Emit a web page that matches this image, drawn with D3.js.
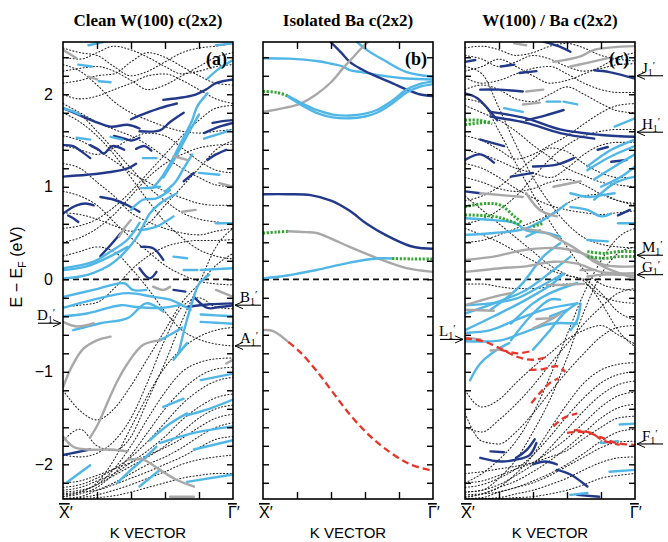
<!DOCTYPE html>
<html><head><meta charset="utf-8">
<script src="https://cdn.jsdelivr.net/npm/d3@7"></script>
<style>
body{margin:0;background:#fff}
text{font-family:"Liberation Sans",Arial,sans-serif}
.serif{font-family:"Liberation Serif","Times New Roman",serif}
</style>
</head><body>
<svg id="chart" width="668" height="542"></svg>
<script>
// Surface band structures along X'-Gamma' for W(100), an isolated Ba c(2x2) layer and Ba on W(100).
// Dotted bands are sampled on an even k grid; coloured segments mark character-weighted stretches.

const kGrid = [0, 0.1, 0.2, 0.3, 0.4, 0.5, 0.6, 0.7, 0.8, 0.9, 1.0];
const yTicks = [-2.2,-2,-1.8,-1.6,-1.4,-1.2,-1,-0.8,-0.6,-0.4,-0.2,0,0.2,0.4,0.6,0.8,1,1.2,1.4,1.6,1.8,2,2.2,2.4];
const yLabels = [-2, -1, 0, 1, 2];
const kTicks = [0.2, 0.4, 0.6, 0.8];
const titles = ["Clean W(100) c(2x2)", "Isolated Ba c(2x2)", "W(100) / Ba c(2x2)"];
const panelTags = ["(a)", "(b)", "(c)"];

// ---------- clean W(100): dotted bands ----------
const dottedA = [
  [-2.33,-2.30,-2.20,-1.95,-1.60,-1.25,-0.95,-0.75,-0.62,-0.55,-0.52],
  [-2.30,-2.28,-2.22,-2.05,-1.80,-1.50,-1.22,-1.00,-0.90,-0.86,-0.85],
  [-2.35,-2.32,-2.25,-2.10,-1.90,-1.65,-1.40,-1.20,-1.05,-0.97,-0.95],
  [-2.25,-2.22,-2.15,-2.05,-1.92,-1.75,-1.55,-1.35,-1.20,-1.10,-1.06],
  [-2.28,-2.25,-2.18,-2.10,-1.98,-1.85,-1.70,-1.52,-1.38,-1.28,-1.24],
  [-2.35,-2.30,-2.22,-2.12,-2.02,-1.92,-1.80,-1.65,-1.50,-1.40,-1.36],
  [-2.20,-2.18,-2.12,-2.05,-1.98,-1.90,-1.82,-1.72,-1.60,-1.50,-1.46],
  [-2.37,-2.35,-2.28,-2.20,-2.10,-2.00,-1.92,-1.82,-1.70,-1.60,-1.55],
  [-2.32,-2.30,-2.28,-2.22,-2.15,-2.08,-2.00,-1.92,-1.82,-1.73,-1.70],
  [-2.37,-2.36,-2.33,-2.28,-2.22,-2.15,-2.08,-2.00,-1.95,-1.92,-1.90],
  [-2.37,-2.37,-2.36,-2.34,-2.30,-2.25,-2.20,-2.15,-2.12,-2.10,-2.10],
  [-1.20,-1.42,-1.52,-1.40,-1.15,-0.85,-0.55,-0.25,-0.05,0.15,0.28],
  [-1.75,-1.62,-1.80,-1.85,-1.70,-1.30,-0.90,-0.45,-0.05,0.35,0.55],
  [-1.90,-1.92,-1.88,-1.75,-1.50,-1.10,-0.65,-0.30,-0.20,-0.30,-0.32],
  [2.50,2.45,2.42,2.30,2.20,2.25,2.35,2.45,2.50,2.52,2.55],
  [2.40,2.38,2.45,2.52,2.48,2.40,2.30,2.22,2.25,2.30,2.32],
  [2.25,2.28,2.30,2.25,2.15,2.05,2.10,2.20,2.30,2.40,2.45],
  [2.12,2.15,2.20,2.22,2.35,2.45,2.40,2.30,2.20,2.12,2.10],
  [2.00,1.95,1.98,2.05,2.12,2.20,2.22,2.15,2.05,1.95,1.90],
  [1.90,1.80,1.70,1.62,1.55,1.45,1.32,1.20,1.10,1.02,1.00],
  [1.85,1.78,1.60,1.40,1.20,1.00,0.85,0.72,0.65,0.62,0.60],
  [1.80,1.70,1.55,1.35,1.10,0.85,0.62,0.45,0.32,0.25,0.22],
  [0.55,0.58,0.65,0.78,0.95,1.15,1.35,1.55,1.72,1.85,1.88],
  [0.40,0.45,0.55,0.70,0.90,1.10,1.25,1.35,1.42,1.45,1.46],
  [1.25,1.20,1.05,0.90,0.72,0.62,0.55,0.50,0.48,0.52,0.55],
  [1.55,1.50,1.40,1.28,1.15,1.05,0.95,0.88,0.82,0.80,0.80],
  [0.95,0.90,0.80,0.62,0.45,0.30,0.15,0.05,-0.02,-0.05,-0.06],
  [1.45,1.40,1.35,1.42,1.52,1.58,1.55,1.42,1.28,1.18,1.15],
  [2.32,2.25,2.10,1.92,1.80,1.72,1.65,1.60,1.58,1.60,1.62],
  [0.72,0.70,0.65,0.58,0.52,0.60,0.80,1.00,1.20,1.40,1.50],
  [0.25,0.30,0.35,0.30,0.12,-0.10,-0.35,-0.55,-0.65,-0.70,-0.72],
  [-0.30,-0.28,-0.25,-0.10,0.10,0.25,0.35,0.40,0.42,0.42,0.43]
];

// ---------- clean W(100): weighted segments ----------
const segA = [
  {c:"dark", p:[[0,1.85],[0.09,1.78],[0.18,1.71],[0.28,1.65],[0.38,1.67],[0.45,1.63]]},
  {c:"dark", p:[[0.40,1.73],[0.48,1.79],[0.57,1.85],[0.67,1.90]]},
  {c:"dark", p:[[0.59,1.94],[0.68,1.96],[0.77,1.99],[0.84,2.05],[0.90,2.12],[1.0,2.16]]},
  {c:"dark", p:[[0.45,1.60],[0.57,1.61],[0.63,1.70],[0.71,1.80]]},
  {c:"dark", p:[[0.30,1.55],[0.36,1.52],[0.40,1.50],[0.45,1.53]]},
  {c:"dark", p:[[0,1.45],[0.06,1.44],[0.11,1.38],[0.16,1.31]]},
  {c:"dark", p:[[0.16,1.45],[0.21,1.40],[0.24,1.36],[0.29,1.44],[0.36,1.40]]},
  {c:"dark", p:[[0.43,1.41],[0.48,1.44],[0.52,1.39]]},
  {c:"dark", p:[[0,1.11],[0.14,1.13],[0.28,1.16],[0.38,1.20],[0.43,1.25]]},
  {c:"dark", p:[[0.88,1.69],[0.94,1.71],[1.0,1.72]]},
  {c:"dark", p:[[0.83,1.58],[0.92,1.65],[1.0,1.69]]},
  {c:"dark", p:[[0.85,1.29],[0.90,1.35],[0.96,1.40]]},
  {c:"dark", p:[[0.71,1.06],[0.77,1.15]]},
  {c:"dark", p:[[0,0.71],[0.04,0.76],[0.08,0.80],[0.13,0.82],[0.18,0.80]]},
  {c:"dark", p:[[0.03,0.69],[0.06,0.66],[0.09,0.62]]},
  {c:"dark", p:[[0.22,0.89],[0.30,0.86],[0.38,0.80],[0.45,0.73]]},
  {c:"dark", p:[[0.22,0.25],[0.28,0.37],[0.34,0.50]]},
  {c:"dark", p:[[0.46,0.35],[0.53,0.335],[0.59,0.21]]},
  {c:"dark", p:[[0.45,0.12],[0.51,0.01],[0.55,0.08]]},
  {c:"dark", p:[[0.65,-0.115],[0.72,-0.133]]},
  {c:"dark", p:[[0.77,-0.19],[0.85,-0.31],[0.92,-0.30],[1,-0.28]]},
  {c:"dark", p:[[0.73,-0.30],[0.86,-0.27],[1,-0.26]]},
  {c:"dark", p:[[0,-1.90],[0.08,-1.87],[0.16,-1.84]]},
  {c:"light", p:[[0.9,2.53],[1.0,2.55]]},
  {c:"light", p:[[0.15,2.53],[0.25,2.57]]},
  {c:"light", p:[[0.09,2.32],[0.17,2.30]]},
  {c:"light", p:[[0.21,2.14],[0.28,2.13]]},
  {c:"light", p:[[0.85,2.17],[0.92,2.28],[1.0,2.37]]},
  {c:"light", p:[[0,1.85],[0.05,1.82],[0.1,1.78]]},
  {c:"light", p:[[0.53,0.99],[0.58,1.10],[0.63,1.25],[0.70,1.50],[0.76,1.72],[0.79,1.87],[0.85,2.01]]},
  {c:"light", p:[[0.59,1.10],[0.64,1.25],[0.70,1.45],[0.75,1.62],[0.80,1.78]]},
  {c:"light", p:[[0.60,0.95],[0.66,1.05],[0.71,1.20],[0.76,1.35]]},
  {c:"light", p:[[0.08,1.53],[0.16,1.51]]},
  {c:"light", p:[[0.28,1.54],[0.35,1.51]]},
  {c:"light", p:[[0.47,1.31],[0.55,1.31]]},
  {c:"light", p:[[0.83,1.52],[0.90,1.56],[0.98,1.61]]},
  {c:"light", p:[[0.8,1.15],[0.92,1.13]]},
  {c:"light", p:[[0.46,0.985],[0.52,0.99],[0.57,1.0]]},
  {c:"light", p:[[0,0.12],[0.1,0.15],[0.18,0.19],[0.28,0.30],[0.38,0.43],[0.45,0.61]]},
  {c:"light", p:[[0,0.10],[0.14,0.14],[0.28,0.25],[0.38,0.35]]},
  {c:"light", p:[[0,0.01],[0.1,0.03],[0.18,0.07],[0.28,0.16],[0.34,0.25],[0.40,0.37],[0.45,0.50],[0.51,0.71],[0.57,0.82],[0.67,0.93]]},
  {c:"light", p:[[0.40,0.75],[0.47,0.86],[0.55,0.875],[0.63,0.965]]},
  {c:"light", p:[[0.45,0.53],[0.55,0.57],[0.65,0.68]]},
  {c:"light", p:[[0.65,0.245],[0.73,0.227]]},
  {c:"light", p:[[0.71,0.10],[0.79,0.10]]},
  {c:"light", p:[[0.81,0.10],[0.9,0.11],[1,0.12]]},
  {c:"light", p:[[0.9,0.605],[1,0.605]]},
  {c:"light", p:[[0,-0.19],[0.18,-0.115],[0.36,-0.043],[0.41,-0.115],[0.49,-0.115]]},
  {c:"light", p:[[0,-0.31],[0.18,-0.22],[0.38,-0.15],[0.53,-0.19],[0.63,-0.22],[0.75,-0.33]]},
  {c:"light", p:[[0,-0.40],[0.14,-0.37],[0.34,-0.28],[0.43,-0.30],[0.57,-0.31],[0.69,-0.28]]},
  {c:"light", p:[[0.06,-0.55],[0.22,-0.475],[0.38,-0.42],[0.49,-0.26],[0.59,-0.35]]},
  {c:"light", p:[[0.81,-0.38],[0.9,-0.39],[1,-0.40]]},
  {c:"light", p:[[0.81,-0.46],[0.9,-0.47],[1,-0.48]]},
  {c:"light", p:[[0.68,-0.80],[0.72,-0.50],[0.76,-0.25],[0.80,-0.05],[0.86,0.05]]},
  {c:"light", p:[[0.57,-0.66],[0.63,-0.60],[0.70,-0.52]]},
  {c:"light", p:[[0.65,-0.87],[0.73,-0.69]]},
  {c:"light", p:[[0.59,-1.38],[0.71,-1.29]]},
  {c:"light", p:[[0.81,-1.09],[1,-1.02]]},
  {c:"light", p:[[0.73,-1.47],[0.86,-1.40],[1,-1.30]]},
  {c:"light", p:[[0.51,-1.74],[0.63,-1.56],[0.73,-1.45]]},
  {c:"light", p:[[0.57,-1.77],[0.77,-1.66],[1,-1.59]]},
  {c:"light", p:[[0.32,-2.20],[0.40,-2.06],[0.47,-1.95],[0.55,-1.81]]},
  {c:"light", p:[[0.02,-2.20],[0.16,-2.01]]},
  {c:"light", p:[[0.73,-2.19],[1,-2.11]]},
  {c:"light", p:[[0.45,-2.24],[0.57,-2.06]]},
  {c:"light", p:[[0.77,-1.84],[1,-1.74]]},
  {c:"gray", p:[[0,2.48],[0.08,2.39]]},
  {c:"gray", p:[[0.15,2.19],[0.2,2.16]]},
  {c:"gray", p:[[0.65,1.33],[0.73,1.29]]},
  {c:"gray", p:[[0.92,1.04],[1,1.0]]},
  {c:"gray", p:[[0.33,0.46],[0.36,0.55],[0.40,0.64]]},
  {c:"gray", p:[[0.70,0.73],[0.78,0.75]]},
  {c:"gray", p:[[0,-0.46],[0.08,-0.51],[0.18,-0.475]]},
  {c:"gray", p:[[0.53,-0.08],[0.59,-0.115],[0.63,-0.08]]},
  {c:"gray", p:[[0.9,-0.115],[1,-0.19]]},
  {c:"gray", p:[[0,-1.17],[0.05,-0.95],[0.12,-0.75],[0.2,-0.66],[0.28,-0.62]]},
  {c:"gray", p:[[0.16,-1.71],[0.21,-1.55],[0.26,-1.34],[0.32,-1.10],[0.38,-0.91],[0.47,-0.71],[0.57,-0.66]]},
  {c:"gray", p:[[0,-1.70],[0.06,-1.81],[0.14,-1.84],[0.28,-1.84],[0.38,-1.86]]},
  {c:"gray", p:[[0.38,-1.95],[0.47,-1.95],[0.57,-2.06],[0.67,-2.17],[0.77,-2.24]]},
  {c:"gray", p:[[0.96,-0.91],[1,-0.87]]},
  {c:"gray", p:[[0.63,-2.35],[0.77,-2.35]]}
];

// ---------- isolated Ba layer ----------
const dottedB = [];
const segB = [
  {c:"light", p:[[0,2.39],[0.15,2.385],[0.315,2.36],[0.40,2.33],[0.47,2.30],[0.51,2.26],[0.58,2.24],[0.67,2.21],[0.845,2.17],[1,2.16]]},
  {c:"light", p:[[0.55,2.57],[0.61,2.48],[0.71,2.37],[0.845,2.24],[1,2.19]]},
  {c:"dark", p:[[0.40,2.56],[0.46,2.45],[0.51,2.35],[0.58,2.27],[0.67,2.19],[0.76,2.12],[0.845,2.05],[0.92,2.0],[1,1.98]]},
  {c:"gray", p:[[0,1.81],[0.12,1.85],[0.22,1.90],[0.315,2.0],[0.40,2.13],[0.47,2.28],[0.53,2.40],[0.58,2.50],[0.62,2.57]]},
  {c:"green", p:[[0,2.03],[0.08,2.02],[0.15,1.98]]},
  {c:"light", p:[[0.15,1.98],[0.22,1.91],[0.315,1.83],[0.41,1.78],[0.51,1.77],[0.60,1.79],[0.67,1.83],[0.76,1.93],[0.845,2.05],[0.92,2.11],[1,2.14]]},
  {c:"light", p:[[0.15,1.97],[0.22,1.89],[0.315,1.80],[0.41,1.75],[0.51,1.74],[0.60,1.76],[0.67,1.80],[0.76,1.90],[0.845,2.02],[0.92,2.08],[1,2.11]]},
  {c:"dark", p:[[0,0.92],[0.15,0.92],[0.28,0.91],[0.40,0.85],[0.51,0.74],[0.61,0.60],[0.72,0.48],[0.865,0.36],[0.94,0.335],[1,0.33]]},
  {c:"green", p:[[0,0.50],[0.08,0.51],[0.15,0.52]]},
  {c:"gray", p:[[0.15,0.52],[0.25,0.51],[0.315,0.50],[0.40,0.44],[0.51,0.35],[0.67,0.23],[0.845,0.12],[1,0.08]]},
  {c:"light", p:[[0,0.01],[0.1,0.03],[0.2,0.06],[0.315,0.10],[0.51,0.18],[0.67,0.225],[0.76,0.225]]},
  {c:"green", p:[[0.76,0.225],[0.88,0.22],[1,0.22]]},
  {c:"gray", p:[[0,-0.55],[0.06,-0.56],[0.15,-0.68]]},
  {c:"red", p:[[0.15,-0.68],[0.22,-0.79],[0.315,-0.99],[0.41,-1.22],[0.51,-1.46],[0.61,-1.66],[0.71,-1.82],[0.865,-2.0],[1,-2.07]]}
];

// ---------- Ba on W(100): dotted bands ----------
const dottedC = [
  [2.50,2.52,2.48,2.42,2.45,2.52,2.55,2.50,2.42,2.38,2.36],
  [2.42,2.38,2.30,2.35,2.42,2.38,2.30,2.25,2.28,2.32,2.33],
  [2.25,2.30,2.38,2.30,2.20,2.12,2.15,2.22,2.30,2.40,2.45],
  [2.18,2.12,2.15,2.22,2.28,2.30,2.22,2.12,2.05,2.02,2.02],
  [2.05,2.10,2.05,1.95,1.92,2.00,2.08,2.00,1.90,1.82,1.80],
  [1.95,1.90,1.60,1.25,0.92,0.62,0.35,0.10,-0.05,-0.10,-0.12],
  [2.30,2.22,1.85,1.45,1.10,0.82,0.60,0.45,0.38,0.35,0.34],
  [1.88,1.80,1.72,1.60,1.45,1.32,1.20,1.12,1.05,1.02,1.00],
  [1.55,1.50,1.40,1.30,1.35,1.45,1.55,1.68,1.80,1.88,1.90],
  [1.40,1.35,1.28,1.20,1.15,1.10,1.20,1.35,1.45,1.48,1.48],
  [0.60,0.65,0.75,0.90,1.10,1.30,1.45,1.55,1.60,1.62,1.62],
  [1.10,1.05,0.98,0.95,0.98,1.05,1.08,1.02,0.92,0.85,0.82],
  [0.85,0.90,1.00,1.15,1.30,1.42,1.38,1.25,1.15,1.10,1.10],
  [1.25,1.20,1.10,0.98,0.88,0.80,0.75,0.72,0.70,0.72,0.74],
  [0.40,0.42,0.48,0.55,0.62,0.70,0.82,0.90,0.92,0.85,0.80],
  [-2.20,-2.10,-1.95,-1.75,-1.45,-1.05,-0.60,-0.15,0.20,0.45,0.55],
  [-2.30,-2.28,-2.15,-1.95,-1.65,-1.30,-0.85,-0.35,0.05,0.28,0.35],
  [0.90,0.75,0.60,0.45,0.30,0.15,0.05,-0.02,-0.25,-0.55,-0.73],
  [0.55,0.48,0.40,0.30,0.20,0.10,0.04,0.00,-0.15,-0.35,-0.44],
  [-0.05,-0.05,-0.08,-0.10,-0.10,-0.08,-0.05,-0.05,-0.18,-0.24,-0.26],
  [-2.35,-2.32,-2.25,-2.10,-1.90,-1.62,-1.35,-1.12,-0.98,-0.92,-0.90],
  [-2.25,-2.22,-2.15,-2.05,-1.90,-1.70,-1.48,-1.28,-1.12,-1.03,-1.00],
  [-2.30,-2.28,-2.22,-2.12,-2.00,-1.82,-1.62,-1.42,-1.25,-1.14,-1.10],
  [-2.20,-2.18,-2.12,-2.05,-1.98,-1.86,-1.72,-1.55,-1.38,-1.26,-1.22],
  [-2.36,-2.32,-2.25,-2.18,-2.08,-1.96,-1.82,-1.66,-1.50,-1.39,-1.35],
  [-2.10,-2.08,-2.05,-2.02,-1.98,-1.92,-1.85,-1.72,-1.60,-1.50,-1.48],
  [-2.37,-2.36,-2.30,-2.25,-2.18,-2.10,-2.00,-1.88,-1.75,-1.65,-1.62],
  [-2.33,-2.32,-2.30,-2.25,-2.20,-2.12,-2.02,-1.92,-1.82,-1.76,-1.75],
  [-2.37,-2.37,-2.36,-2.32,-2.28,-2.22,-2.15,-2.06,-1.98,-1.93,-1.92],
  [-2.37,-2.37,-2.37,-2.36,-2.35,-2.32,-2.28,-2.22,-2.15,-2.12,-2.10],
  [-1.20,-1.38,-1.30,-1.12,-0.95,-0.80,-0.65,-0.55,-0.50,-0.60,-0.70],
  [-1.60,-1.65,-1.52,-1.35,-1.15,-0.92,-0.70,-0.48,-0.30,-0.15,-0.10],
  [-1.45,-1.75,-1.78,-1.65,-1.45,-1.22,-1.00,-0.80,-0.62,-0.52,-0.50]
];

const segC = [
  {c:"dark", p:[[0,2.35],[0.06,2.37]]},
  {c:"dark", p:[[0.21,2.30],[0.29,2.32]]},
  {c:"dark", p:[[0.46,2.57],[0.55,2.52],[0.62,2.46]]},
  {c:"dark", p:[[0.32,2.23],[0.42,2.25]]},
  {c:"dark", p:[[0.76,2.26],[0.85,2.24],[1.0,2.17]]},
  {c:"dark", p:[[0.09,2.05],[0.2,2.05],[0.34,2.03]]},
  {c:"dark", p:[[0,2.01],[0.07,1.96],[0.19,1.72]]},
  {c:"dark", p:[[0.15,1.81],[0.36,1.74],[0.56,1.62],[0.80,1.56],[1.0,1.54]]},
  {c:"dark", p:[[0.15,1.76],[0.36,1.69],[0.56,1.58],[0.76,1.52]]},
  {c:"dark", p:[[0.36,1.72],[0.47,1.77],[0.58,1.83]]},
  {c:"dark", p:[[0.09,1.51],[0.23,1.44]]},
  {c:"dark", p:[[0,1.29],[0.09,1.35],[0.17,1.26]]},
  {c:"dark", p:[[0.40,1.22],[0.54,1.24],[0.64,1.31]]},
  {c:"dark", p:[[0.27,1.11],[0.40,1.15]]},
  {c:"dark", p:[[0,0.95],[0.09,0.93]]},
  {c:"dark", p:[[0.78,1.40],[0.84,1.43]]},
  {c:"dark", p:[[0.86,1.27],[0.95,1.29]]},
  {c:"dark", p:[[0.90,0.69],[0.97,0.75]]},
  {c:"dark", p:[[0.09,-1.93],[0.21,-1.97],[0.30,-1.95],[0.38,-1.90],[0.42,-1.77]]},
  {c:"dark", p:[[0.15,-1.86],[0.23,-1.87]]},
  {c:"dark", p:[[0.30,-1.93],[0.36,-1.85],[0.41,-1.73]]},
  {c:"dark", p:[[0.40,-2.00],[0.47,-1.97],[0.54,-2.0]]},
  {c:"dark", p:[[0.54,-2.06],[0.62,-2.11],[0.72,-2.24]]},
  {c:"dark", p:[[0.66,-2.33],[0.79,-2.35]]},
  {c:"light", p:[[0.23,1.85],[0.34,1.81]]},
  {c:"light", p:[[0.48,1.92],[0.56,1.92]]},
  {c:"light", p:[[0.58,1.92],[0.66,1.89]]},
  {c:"light", p:[[0.72,1.22],[0.86,1.40],[1.0,1.51]]},
  {c:"light", p:[[0.72,1.18],[0.86,1.33],[1.0,1.44]]},
  {c:"light", p:[[0.76,1.08],[0.88,1.22],[1.0,1.35]]},
  {c:"light", p:[[0.80,1.00],[0.92,1.11],[1.0,1.22]]},
  {c:"light", p:[[0.88,1.65],[1.0,1.74]]},
  {c:"light", p:[[0.76,0.86],[0.88,1.04],[1.0,1.11]]},
  {c:"light", p:[[0,0.66],[0.17,0.64],[0.30,0.605],[0.36,0.53],[0.48,0.50],[0.56,0.46]]},
  {c:"light", p:[[0,0.48],[0.17,0.50],[0.36,0.55],[0.52,0.71],[0.60,0.82]]},
  {c:"light", p:[[0,-0.37],[0.17,-0.26],[0.36,-0.115],[0.52,0.10],[0.62,0.245]]},
  {c:"light", p:[[0,-0.55],[0.17,-0.40],[0.36,-0.22],[0.52,-0.04],[0.58,0.06]]},
  {c:"light", p:[[0.15,-0.33],[0.32,-0.08],[0.46,0.245],[0.56,0.39]]},
  {c:"light", p:[[0.27,-0.66],[0.40,-0.37],[0.50,-0.22],[0.56,-0.22]]},
  {c:"light", p:[[0.62,0.93],[0.73,0.89],[0.81,0.91],[0.88,0.93]]},
  {c:"light", p:[[0.62,0.78],[0.72,0.75],[0.80,0.68],[0.86,0.71]]},
  {c:"light", p:[[0.90,0.605],[1,0.605]]},
  {c:"light", p:[[0.72,0.425],[0.84,0.41]]},
  {c:"light", p:[[0.36,0.46],[0.44,0.53]]},
  {c:"light", p:[[0.62,-0.55],[0.66,-0.44],[0.68,-0.26]]},
  {c:"light", p:[[0.50,-0.40],[0.60,-0.33]]},
  {c:"light", p:[[0,-0.28],[0.15,-0.26],[0.30,-0.21],[0.44,-0.08],[0.58,0.06]]},
  {c:"light", p:[[0,-0.58],[0.15,-0.55],[0.30,-0.44],[0.46,-0.33],[0.66,-0.26]]},
  {c:"light", p:[[0,-0.67],[0.21,-0.66],[0.34,-0.58],[0.50,-0.48],[0.66,-0.48]]},
  {c:"light", p:[[0.03,-1.09],[0.09,-0.91],[0.19,-0.76],[0.26,-0.69]]},
  {c:"light", p:[[0.40,-0.76],[0.50,-0.55],[0.58,-0.37],[0.66,-0.26]]},
  {c:"light", p:[[0.27,-0.48],[0.40,-0.26],[0.50,-0.15],[0.66,-0.04]]},
  {c:"light", p:[[0.91,-1.57],[1,-1.56]]},
  {c:"light", p:[[0.80,-1.77],[0.90,-1.75]]},
  {c:"light", p:[[0.85,-2.08],[1,-2.06]]},
  {c:"light", p:[[0.62,-2.33],[0.72,-2.31]]},
  {c:"gray", p:[[0.52,2.35],[0.68,2.41],[0.76,2.48],[1.0,2.52]]},
  {c:"gray", p:[[0.62,2.30],[0.72,2.34],[0.84,2.39]]},
  {c:"gray", p:[[0.29,2.55],[0.36,2.53]]},
  {c:"gray", p:[[0.36,2.03],[0.46,2.05]]},
  {c:"gray", p:[[0.34,1.89],[0.44,1.91]]},
  {c:"gray", p:[[0.52,1.0],[0.68,1.06]]},
  {c:"gray", p:[[0.09,0.93],[0.34,0.89]]},
  {c:"gray", p:[[0.36,0.93],[0.44,0.75],[0.54,0.68]]},
  {c:"gray", p:[[0,0.21],[0.17,0.245],[0.36,0.32],[0.56,0.335],[0.72,0.26],[0.82,0.155],[1.0,0.14]]},
  {c:"gray", p:[[0,0.08],[0.21,0.12],[0.36,0.14],[0.52,0.19],[0.66,0.17],[0.80,0.08],[1.0,0.065]]},
  {c:"gray", p:[[0.34,0.55],[0.48,0.50],[0.56,0.425],[0.66,0.32],[0.76,0.19],[0.86,0.10],[1.0,0.01]]},
  {c:"gray", p:[[0,-0.28],[0.17,-0.19],[0.27,-0.15]]},
  {c:"gray", p:[[0,-0.33],[0.17,-0.34]]},
  {c:"gray", p:[[0,-0.63],[0.09,-0.65]]},
  {c:"gray", p:[[0.42,-0.43],[0.52,-0.42]]},
  {c:"gray", p:[[0.72,0.03],[0.82,0.05],[1.0,0.04]]},
  {c:"gray", p:[[0.68,0.10],[0.76,0.10]]},
  {c:"gray", p:[[0.15,-0.77],[0.21,-0.76]]},
  {c:"gray", p:[[0.40,-0.53],[0.50,-0.44],[0.56,-0.37]]},
  {c:"gray", p:[[0.48,-0.06],[0.60,-0.06],[0.70,-0.05]]},
  {c:"green", p:[[0,1.72],[0.08,1.72],[0.16,1.68]]},
  {c:"green", p:[[0,1.67],[0.08,1.69],[0.15,1.70]]},
  {c:"green", p:[[0,0.785],[0.13,0.82],[0.21,0.80],[0.29,0.68],[0.34,0.605]]},
  {c:"green", p:[[0,0.695],[0.17,0.68],[0.25,0.64],[0.32,0.59]]},
  {c:"green", p:[[0.40,0.57],[0.46,0.605]]},
  {c:"green", p:[[0.72,0.30],[0.82,0.28],[0.90,0.30],[1.0,0.30]]},
  {c:"green", p:[[0.72,0.245],[0.82,0.227],[0.90,0.245],[1.0,0.245]]},
  {c:"red", p:[[0,-0.64],[0.11,-0.67],[0.21,-0.75],[0.31,-0.84],[0.40,-0.87],[0.48,-0.84]]},
  {c:"red", p:[[0.21,-0.76],[0.31,-0.80],[0.38,-0.78]]},
  {c:"red", p:[[0.38,-0.98],[0.46,-0.97],[0.54,-0.94],[0.59,-1.0]]},
  {c:"red", p:[[0.39,-1.34],[0.44,-1.23],[0.50,-1.12],[0.55,-1.07]]},
  {c:"red", p:[[0.52,-1.59],[0.58,-1.50],[0.66,-1.45]]},
  {c:"red", p:[[0.60,-1.66],[0.70,-1.65],[0.79,-1.70],[0.89,-1.77],[1.0,-1.79]]},
  {c:"red", p:[[0.64,-1.63],[0.74,-1.66],[0.81,-1.74],[0.91,-1.79]]}
];

// Labelled surface states: panel index, side of the frame, name, energy
const stateNames = ["D","B","A","L","J","H","M","G","F"];
const stateEnergy = [-0.475, -0.28, -0.72, -0.65, 2.2, 1.59, 0.26, 0.05, -1.78];
const statePanel = [0, 0, 0, 2, 2, 2, 2, 2, 2];
const stateSide = ["left","right","right","left","right","right","right","right","right"];

// ---------- drawing ----------
const svg = d3.select("#chart");
const yScale = d3.scaleLinear().domain([-2.375, 2.565]).range([499, 42]);
const xRanges = [[63, 233], [263, 433], [465, 635]];

const bandColor = {dark:"#22398a", light:"#4fb6e6", gray:"#a8a8a8", green:"#34a532", red:"#e8352a"};

const defs = svg.append("defs");
defs.append("marker").attr("id","head").attr("viewBox","0 0 10 10")
  .attr("refX",9).attr("refY",5).attr("markerWidth",9).attr("markerHeight",9)
  .attr("markerUnits","userSpaceOnUse").attr("orient","auto")
  .append("path").attr("d","M0,1 L9,5 L0,9").attr("fill","none").attr("stroke","#000").attr("stroke-width",1.1);

const panelData = [[dottedA, segA], [dottedB, segB], [dottedC, segC]];

panelData.forEach(([dotted, segs], i) => {
  const [x0, x1] = xRanges[i];
  const x = d3.scaleLinear().domain([0, 1]).range([x0, x1]);
  const g = svg.append("g");

  defs.append("clipPath").attr("id", "clip" + i).append("rect")
    .attr("x", x0).attr("y", yScale.range()[1]).attr("width", x1 - x0).attr("height", yScale.range()[0] - yScale.range()[1]);

  const plot = g.append("g").attr("clip-path", `url(#clip${i})`);

  const bandLine = d3.line().x((d, j) => x(kGrid[j])).y(d => yScale(d)).curve(d3.curveMonotoneX);
  plot.selectAll("path.dot").data(dotted).join("path").attr("class","dot")
    .attr("d", bandLine).attr("fill","none").attr("stroke","#222")
    .attr("stroke-width",1.05).attr("stroke-dasharray","1.1,2.3").attr("stroke-linecap","round");

  // Fermi level
  plot.append("line").attr("x1", x0).attr("x2", x1).attr("y1", yScale(0)).attr("y2", yScale(0))
    .attr("stroke","#111").attr("stroke-width",1.7).attr("stroke-dasharray","6,4");

  const segLine = d3.line().x(d => x(d[0])).y(d => yScale(d[1])).curve(d3.curveCatmullRom.alpha(0.5));
  plot.selectAll("path.seg").data(segs).join("path").attr("class","seg")
    .attr("d", d => segLine(d.p)).attr("fill","none")
    .attr("stroke", d => bandColor[d.c])
    .attr("stroke-width", d => d.c === "green" ? 3 : d.c === "red" ? 2.3 : 2.4)
    .attr("stroke-dasharray", d => d.c === "green" ? "2.2,1.6" : d.c === "red" ? "7,4" : null)
    .attr("stroke-linecap", d => d.c === "green" || d.c === "red" ? "butt" : "round");

  // inward ticks on all four sides
  const tickStyle = s => { s.select(".domain").remove(); s.selectAll("line").attr("stroke","#000").attr("stroke-width",1.4); };
  g.append("g").attr("transform",`translate(${x0},0)`).call(d3.axisLeft(yScale).tickValues(yTicks).tickSize(-6).tickFormat("")).call(tickStyle);
  g.append("g").attr("transform",`translate(${x1},0)`).call(d3.axisRight(yScale).tickValues(yTicks).tickSize(-6).tickFormat("")).call(tickStyle);
  g.append("g").attr("transform",`translate(0,${yScale.range()[0]})`).call(d3.axisBottom(x).tickValues(kTicks).tickSize(-7).tickFormat("")).call(tickStyle);
  g.append("g").attr("transform",`translate(0,${yScale.range()[1]})`).call(d3.axisTop(x).tickValues(kTicks).tickSize(-7).tickFormat("")).call(tickStyle);

  g.append("rect").attr("x", x0).attr("y", yScale.range()[1]).attr("width", x1 - x0)
    .attr("height", yScale.range()[0] - yScale.range()[1]).attr("fill","none").attr("stroke","#000").attr("stroke-width",1.6);

  // title and panel tag
  svg.append("text").attr("class","serif").attr("x", (x0 + x1) / 2).attr("y", 26)
    .attr("text-anchor","middle").attr("font-weight","bold").attr("font-size",17).text(titles[i]);
  svg.append("text").attr("class","serif").attr("x", x1 - 6).attr("y", 65)
    .attr("text-anchor","end").attr("font-weight","bold").attr("font-size",18).text(panelTags[i]);

  // k-point labels
  const lx = svg.append("text").attr("x", x0 - 4).attr("y", 518).attr("font-size",16);
  lx.append("tspan").attr("text-decoration","overline").text("X");
  lx.append("tspan").text("\u2032");
  const lg = svg.append("text").attr("x", x1 - 5).attr("y", 518).attr("font-size",16);
  lg.append("tspan").attr("text-decoration","overline").text("\u0393");
  lg.append("tspan").text("\u2032");
  svg.append("text").attr("x", (x0 + x1) / 2).attr("y", 538).attr("text-anchor","middle")
    .attr("font-size",15).text("K  VECTOR");
});

// energy tick labels on the first panel
svg.append("g").attr("transform",`translate(${xRanges[0][0]},0)`)
  .call(d3.axisLeft(yScale).tickValues(yLabels).tickSize(0).tickPadding(10).tickFormat(d3.format("d")))
  .call(s => { s.select(".domain").remove(); s.selectAll("text").attr("font-size",16).attr("font-family","Liberation Sans, Arial, sans-serif").attr("fill","#000"); });

// energy axis title
const yt = svg.append("text").attr("transform","translate(22,267) rotate(-90)").attr("text-anchor","middle").attr("font-size",16);
yt.append("tspan").text("E \u2212 E");
yt.append("tspan").attr("font-size",11).attr("dy",4).text("F");
yt.append("tspan").attr("dy",-4).text(" (eV)");

// state markers
stateNames.forEach((name, i) => {
  const [x0, x1] = xRanges[statePanel[i]];
  const yy = yScale(stateEnergy[i]);
  const left = stateSide[i] === "left";
  const xa = left ? x0 - 25 : x1 + 28;
  const xb = left ? x0 - 2 : x1 + 2;
  svg.append("line").attr("x1", xa).attr("x2", xb).attr("y1", yy).attr("y2", yy)
    .attr("stroke","#000").attr("stroke-width",1.1).attr("marker-end","url(#head)");
  const t = svg.append("text").attr("class","serif").attr("x", left ? x0 - 26 : x1 + 7).attr("y", yy - 3).attr("font-size",15);
  t.append("tspan").text(name);
  t.append("tspan").attr("font-size",10).attr("dy",3).text("1");
  t.append("tspan").attr("font-size",11).attr("dy",-7).text("\u2032");
});
</script>
</body></html>
